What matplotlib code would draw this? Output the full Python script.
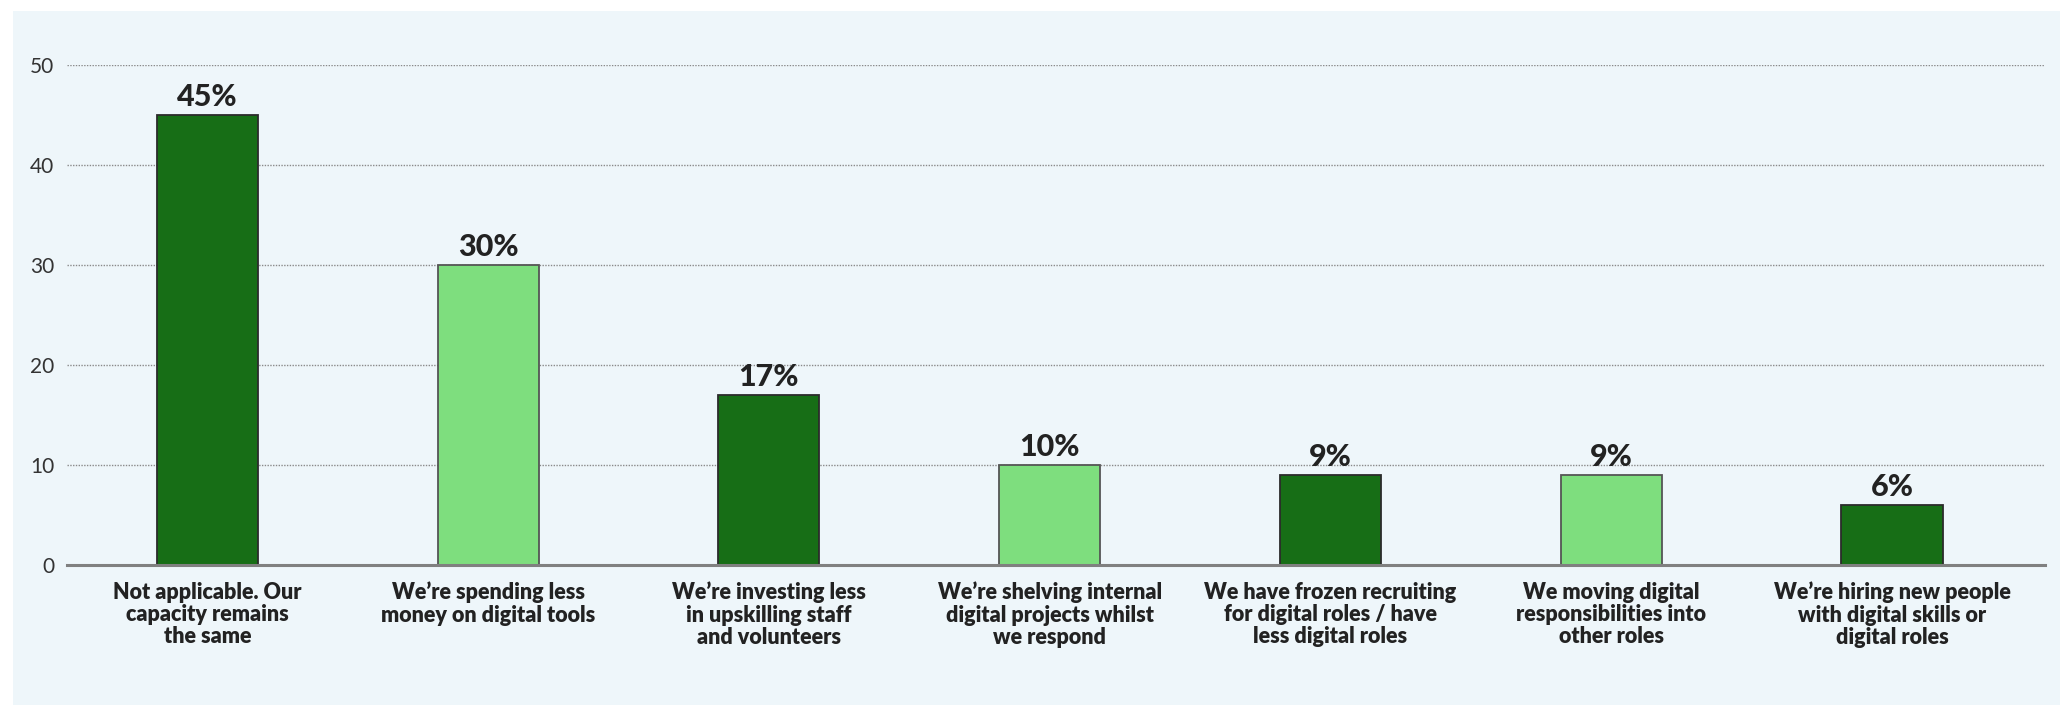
import matplotlib
matplotlib.use("Agg")
import matplotlib.pyplot as plt
from matplotlib.patches import Rectangle

categories = [
    "Not applicable. Our\ncapacity remains\nthe same",
    "We\u2019re spending less\nmoney on digital tools",
    "We\u2019re investing less\nin upskilling staff\nand volunteers",
    "We\u2019re shelving internal\ndigital projects whilst\nwe respond",
    "We have frozen recruiting\nfor digital roles / have\nless digital roles",
    "We moving digital\nresponsibilities into\nother roles",
    "We\u2019re hiring new people\nwith digital skills or\ndigital roles",
]
values = [45, 30, 17, 10, 9, 9, 6]
yticks = [0, 10, 20, 30, 40, 50]

DARK = "#176e16"
LIGHT = "#7ede7e"
PANEL = "#eef6fa"
TEXT = "#222222"

plt.rcParams["font.family"] = ["Lato", "DejaVu Sans"]

W, H = 2060, 705
fig = plt.figure(figsize=(W / 100, H / 100), dpi=100)
fig.patch.set_facecolor("white")
fig.patches.append(Rectangle((13 / W, 0), 1 - 13 / W, (H - 11) / H,
                             transform=fig.transFigure, facecolor=PANEL,
                             edgecolor="none", zorder=-5))

ax = fig.add_axes([67 / W, 140 / H, (2045 - 67) / W, 500 / H])
ax.set_facecolor("none")
ax.set_zorder(2)

colors = [DARK if i % 2 == 0 else LIGHT for i in range(len(values))]
edges = ["#2b2b2b" if i % 2 == 0 else "#555555" for i in range(len(values))]
x = list(range(len(values)))
bars = ax.bar(x, values, width=0.36, color=colors, edgecolor=edges,
              linewidth=1.3, zorder=3)

for xi, v in zip(x, values):
    ax.annotate(f"{v}%", (xi, v), xytext=(0, 3), textcoords="offset points",
                ha="center", va="bottom", fontsize=22, fontweight="black",
                color=TEXT, zorder=4, annotation_clip=False)

ax.set_xlim(-0.5, 6.545)
ax.set_ylim(0, 50)
ax.set_yticks(yticks)
ax.set_xticks(x)
ax.set_xticklabels(categories, fontsize=15.5, fontweight="heavy", color=TEXT,
                   linespacing=1.08)
ax.tick_params(axis="x", length=0, pad=12)
ax.tick_params(axis="y", length=0, pad=9, labelsize=15, labelcolor="#333333")

ax.grid(axis="y", linestyle=(0, (1, 1)), color="#8a8a8a", linewidth=1.0, zorder=1)
ax.grid(axis="x", visible=False)
for side in ["top", "right", "left"]:
    ax.spines[side].set_visible(False)
ax.spines["bottom"].set_color("#808080")
ax.spines["bottom"].set_linewidth(2.2)
ax.spines["bottom"].set_zorder(5)

fig.savefig("out.png", dpi=100, facecolor=fig.get_facecolor())
